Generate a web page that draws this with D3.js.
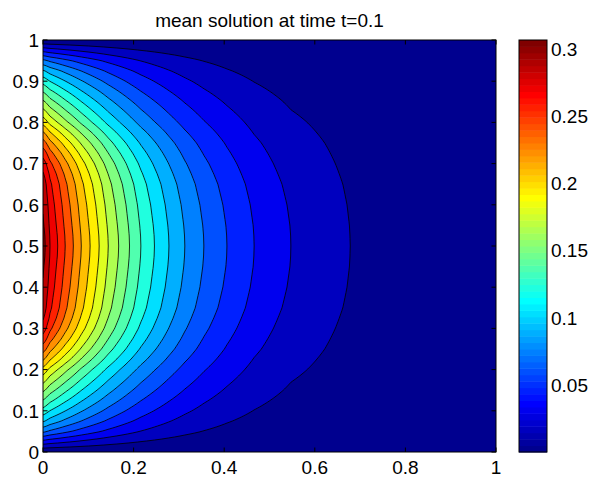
<!DOCTYPE html>
<html>
<head>
<meta charset="utf-8">
<script src="https://d3js.org/d3.v7.min.js"></script>
<style>
  body { margin: 0; background: #fff; }
  svg { display: block; }
  text { font-family: "Liberation Sans", Arial, sans-serif; fill: #000; }
</style>
</head>
<body>
<svg id="chart" width="592" height="481"></svg>
<script>
// contour levels used by contourf
var levels = [0.015, 0.03, 0.045, 0.06, 0.075, 0.09, 0.105, 0.12, 0.135, 0.15,
              0.165, 0.18, 0.195, 0.21, 0.225, 0.24, 0.255, 0.27, 0.285, 0.30];
var zMin = 0, zMax = 0.307;

var xKnots       = [0, 0.005, 0.0155, 0.0325, 0.049, 0.067, 0.0845, 0.104, 0.124, 0.144, 0.167,
                    0.191, 0.216, 0.246, 0.278, 0.313, 0.355, 0.406, 0.466, 0.547, 0.678, 0.82, 1.0];
var centerValues = [0.305, 0.300, 0.285, 0.27, 0.255, 0.24, 0.225, 0.21, 0.195, 0.18, 0.165,
                    0.15, 0.135, 0.12, 0.105, 0.09, 0.075, 0.06, 0.045, 0.03, 0.015, 0.007, 0.003];

// relative profile across y (lower half, mirrored for the upper half):
// at the left wall x = 0 and in the interior x >= 0.55
var yKnots          = [0, 0.025, 0.05, 0.075, 0.1, 0.125, 0.15, 0.175, 0.2, 0.225, 0.25, 0.275, 0.3, 0.325, 0.35, 0.4, 0.45, 0.475, 0.5];
var wallProfile     = [0, 0.13, 0.257, 0.35, 0.423, 0.489, 0.55, 0.61, 0.671, 0.745, 0.81, 0.865, 0.91, 0.94, 0.96, 0.978, 0.99, 0.997, 1.0];
var interiorProfile = [0, 0.08, 0.16, 0.235, 0.31, 0.38, 0.45, 0.515, 0.58, 0.64, 0.70, 0.75, 0.80, 0.845, 0.89, 0.95, 0.988, 0.997, 1.0];
var profileX = [0, 0.55];

var xTicks = [0, 0.2, 0.4, 0.6, 0.8, 1];
var yTicks = [0, 0.1, 0.2, 0.3, 0.4, 0.5, 0.6, 0.7, 0.8, 0.9, 1];
var cbTicks = [0.05, 0.1, 0.15, 0.2, 0.25, 0.3];

const LEFT = 43, RIGHT = 496, TOP = 40, BOTTOM = 452;
const CBL = 519, CBR = 547;
const FS = 19;
const TICK = 4.5;

var svg = d3.select("#chart");

var x = d3.scaleLinear().domain([0, 1]).range([LEFT, RIGHT]);
var y = d3.scaleLinear().domain([0, 1]).range([BOTTOM, TOP]);

var gAlong = d3.scaleLinear().domain(xKnots).range(centerValues).clamp(true);
var pWall = d3.scaleLinear().domain(yKnots).range(wallProfile).clamp(true);
var pInner = d3.scaleLinear().domain(yKnots).range(interiorProfile).clamp(true);
var blend = d3.scaleLinear().domain(profileX).range([0, 1]).clamp(true);

// jet(64) like MATLAB
var jet = i => {
  var t = i / 64;
  var c = v => Math.round(255 * Math.max(0, Math.min(1, v)));
  return `rgb(${c(Math.min(4 * t - 1.5, -4 * t + 4.5))},${c(Math.min(4 * t - 0.5, -4 * t + 3.5))},${c(Math.min(4 * t + 0.5, -4 * t + 2.5))})`;
};
var colorIndex = v => Math.max(1, Math.min(64, Math.floor((v - zMin) / (zMax - zMin) * 64) + 1));

// grid of values
var nx = 454, ny = 413;
var values = new Array(nx * ny);
for (let j = 0; j < ny; j++) {
  var yy = 1 - j / (ny - 1);
  var ym = Math.min(yy, 1 - yy);
  var pw = pWall(ym), pi = pInner(ym);
  for (let i = 0; i < nx; i++) {
    var xx = i / (nx - 1);
    values[j * nx + i] = gAlong(xx) * d3.interpolateNumber(pw, pi)(blend(xx));
  }
}

var contours = d3.contours().size([nx, ny]).thresholds(levels)(values);

var proj = d3.geoTransform({
  point: function(px, py) {
    this.stream.point(x((px - 0.5) / (nx - 1)), y(1 - (py - 0.5) / (ny - 1)));
  }
});
var path = d3.geoPath(proj);

svg.append("clipPath").attr("id", "plotclip")
  .append("rect")
  .attr("x", LEFT).attr("y", TOP)
  .attr("width", RIGHT - LEFT).attr("height", BOTTOM - TOP);

var plot = svg.append("g").attr("clip-path", "url(#plotclip)");

plot.append("rect")
  .attr("x", LEFT).attr("y", TOP)
  .attr("width", RIGHT - LEFT).attr("height", BOTTOM - TOP)
  .attr("fill", jet(1));

plot.selectAll("path.band")
  .data(contours)
  .enter()
  .append("path")
  .attr("class", "band")
  .attr("d", path)
  .attr("fill", d => jet(colorIndex(d.value)))
  .attr("stroke", "#000")
  .attr("stroke-width", 0.8);

// axes frame
svg.append("rect")
  .attr("x", LEFT).attr("y", TOP)
  .attr("width", RIGHT - LEFT).attr("height", BOTTOM - TOP)
  .attr("fill", "none").attr("stroke", "#000").attr("stroke-width", 1);

var ticks = svg.append("g").attr("stroke", "#000").attr("stroke-width", 1);
xTicks.forEach(t => {
  ticks.append("line").attr("x1", x(t)).attr("x2", x(t)).attr("y1", BOTTOM).attr("y2", BOTTOM - TICK);
  ticks.append("line").attr("x1", x(t)).attr("x2", x(t)).attr("y1", TOP).attr("y2", TOP + TICK);
});
yTicks.forEach(t => {
  ticks.append("line").attr("x1", LEFT).attr("x2", LEFT + TICK).attr("y1", y(t)).attr("y2", y(t));
  ticks.append("line").attr("x1", RIGHT).attr("x2", RIGHT - TICK).attr("y1", y(t)).attr("y2", y(t));
});

svg.selectAll("text.xtick")
  .data(xTicks)
  .enter()
  .append("text")
  .attr("class", "xtick")
  .attr("x", d => x(d))
  .attr("y", BOTTOM + 22)
  .attr("text-anchor", "middle")
  .attr("font-size", FS)
  .text(d => d);

svg.selectAll("text.ytick")
  .data(yTicks)
  .enter()
  .append("text")
  .attr("class", "ytick")
  .attr("x", LEFT - 4)
  .attr("y", d => y(d) + 6.8)
  .attr("text-anchor", "end")
  .attr("font-size", FS)
  .text(d => d);

svg.append("text")
  .attr("x", (LEFT + RIGHT) / 2)
  .attr("y", 26.5)
  .attr("text-anchor", "middle")
  .attr("font-size", 19)
  .text("mean solution at time t=0.1");

// colorbar
var cb = d3.scaleLinear().domain([zMin, zMax]).range([BOTTOM, TOP]);
var cbSteps = d3.range(1, 65);
var stepH = (BOTTOM - TOP) / 64;
svg.selectAll("rect.cb")
  .data(cbSteps)
  .enter()
  .append("rect")
  .attr("class", "cb")
  .attr("x", CBL)
  .attr("width", CBR - CBL)
  .attr("y", i => BOTTOM - i * stepH)
  .attr("height", stepH + 0.5)
  .attr("fill", i => jet(i));

svg.append("rect")
  .attr("x", CBL).attr("y", TOP)
  .attr("width", CBR - CBL).attr("height", BOTTOM - TOP)
  .attr("fill", "none").attr("stroke", "#000").attr("stroke-width", 1);

cbTicks.forEach(t => {
  ticks.append("line").attr("x1", CBL).attr("x2", CBL + 3).attr("y1", cb(t)).attr("y2", cb(t));
  ticks.append("line").attr("x1", CBR).attr("x2", CBR - 3).attr("y1", cb(t)).attr("y2", cb(t));
});

svg.selectAll("text.cbtick")
  .data(cbTicks)
  .enter()
  .append("text")
  .attr("class", "cbtick")
  .attr("x", CBR + 4)
  .attr("y", d => cb(d) + 6.8)
  .attr("font-size", FS)
  .text(d => d);
</script>
</body>
</html>
